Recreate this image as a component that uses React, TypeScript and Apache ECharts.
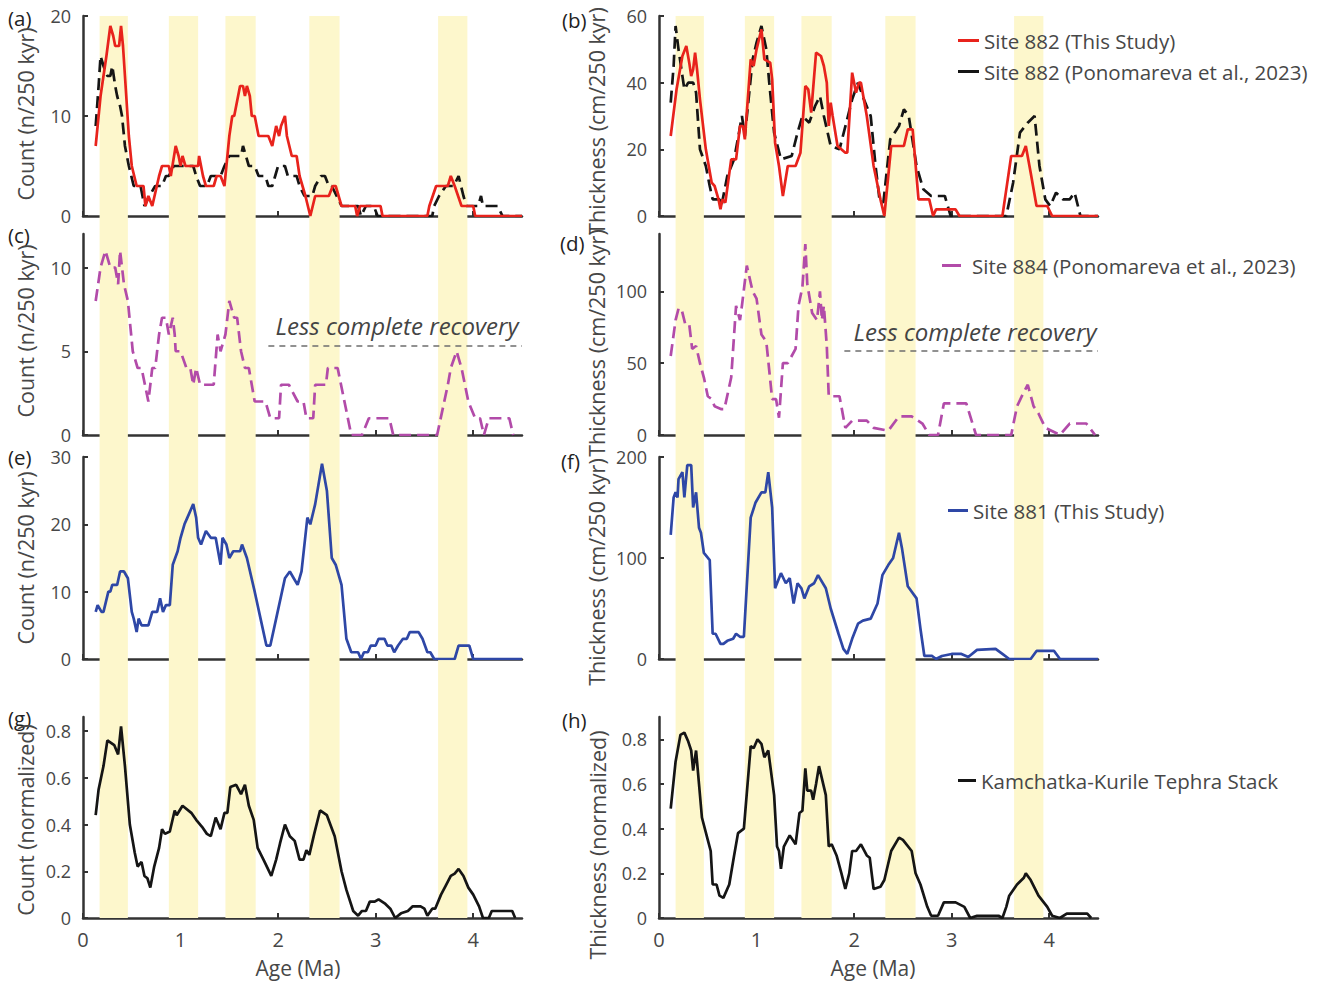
import React, { useEffect, useRef } from "react";
import * as echarts from "echarts";

// Glacial-interval shading (Ma)
const bands: [number, number][] = [
  [0.17, 0.46], [0.88, 1.18], [1.46, 1.77], [2.32, 2.63], [3.64, 3.94],
];

const ageTicks = [0, 1, 2, 3, 4];

// (a) Site 882 tephra count
const countRed882: [number, number][] = [
  [0.13,7],[0.18,12],[0.24,16],[0.28,19],[0.31,18],[0.33,17],[0.37,17],[0.39,19],[0.41,17],[0.43,14],[0.47,8],[0.5,5],[0.55,3],[0.62,3],[0.64,1],[0.67,2],[0.71,1],[0.78,4],[0.81,5],[0.88,5],[0.9,4],[0.95,7],[0.98,6],[1.0,5],[1.02,6],[1.05,5],[1.09,5],[1.18,5],[1.19,6],[1.23,4],[1.26,3],[1.34,3],[1.37,4],[1.41,4],[1.45,3],[1.5,8],[1.53,10],[1.55,10],[1.59,12],[1.61,13],[1.64,13],[1.66,12],[1.68,13],[1.71,12],[1.73,10],[1.76,10],[1.8,8],[1.9,8],[1.94,7],[1.98,9],[2.01,8],[2.03,9],[2.07,10],[2.09,8],[2.14,6],[2.19,6],[2.22,4],[2.28,2],[2.33,0],[2.38,2],[2.52,2],[2.56,3],[2.59,3],[2.65,1],[2.79,1],[2.81,0],[2.84,1],[3.05,1],[3.07,0],[3.53,0],[3.55,1],[3.62,3],[3.74,3],[3.77,4],[3.81,3],[3.88,1],[4.0,1],[4.02,0],[4.5,0],
];
const countBlack882: [number, number][] = [
  [0.13,9],[0.16,13],[0.18,16],[0.21,15],[0.25,14],[0.28,14],[0.3,15],[0.33,13],[0.35,12],[0.38,11],[0.4,10],[0.43,7],[0.45,6],[0.47,5],[0.52,3],[0.59,3],[0.61,2],[0.63,1],[0.68,2],[0.74,3],[0.81,3],[0.85,4],[0.88,4],[0.93,5],[0.98,5],[1.13,5],[1.16,4],[1.2,3],[1.27,3],[1.31,4],[1.41,4],[1.45,5],[1.5,6],[1.62,6],[1.64,7],[1.67,6],[1.7,5],[1.76,5],[1.8,4],[1.87,4],[1.9,3],[1.94,3],[1.97,4],[2.0,5],[2.07,5],[2.1,4],[2.19,4],[2.22,3],[2.27,2],[2.35,2],[2.38,3],[2.44,4],[2.48,4],[2.52,3],[2.55,3],[2.6,2],[2.65,1],[2.82,1],[2.85,0],[2.9,1],[2.98,1],[3.02,0],[3.58,0],[3.6,1],[3.65,2],[3.72,3],[3.8,3],[3.85,4],[3.9,2],[3.93,1],[4.05,1],[4.08,2],[4.1,1],[4.25,1],[4.3,0],[4.5,0],
];

// (b) Site 882 tephra thickness
const thickRed882: [number, number][] = [
  [0.12,24],[0.18,38],[0.24,48],[0.28,51],[0.31,46],[0.33,42],[0.35,44],[0.37,49],[0.39,44],[0.42,35],[0.48,20],[0.54,10],[0.57,9],[0.61,5],[0.63,2],[0.65,5],[0.68,4],[0.74,17],[0.79,17],[0.83,27],[0.86,27],[0.88,23],[0.94,47],[0.97,45],[1.0,50],[1.05,56],[1.08,47],[1.14,46],[1.16,41],[1.19,22],[1.23,15],[1.27,6],[1.32,15],[1.4,15],[1.45,19],[1.5,39],[1.53,38],[1.56,31],[1.61,49],[1.66,48],[1.69,45],[1.72,40],[1.74,27],[1.76,34],[1.78,30],[1.83,21],[1.91,19],[1.93,19],[1.98,43],[2.02,37],[2.05,40],[2.07,40],[2.13,30],[2.2,15],[2.27,5],[2.31,0],[2.38,21],[2.51,21],[2.55,26],[2.6,26],[2.66,5],[2.77,5],[2.81,0],[2.84,2],[3.04,2],[3.08,0],[3.52,0],[3.56,8],[3.61,18],[3.72,18],[3.76,21],[3.81,13],[3.87,3],[3.98,3],[4.03,0],[4.5,0],
];
const thickBlack882: [number, number][] = [
  [0.12,34],[0.15,45],[0.17,57],[0.2,50],[0.23,44],[0.26,38],[0.3,40],[0.35,40],[0.38,37],[0.42,20],[0.48,15],[0.52,9],[0.55,5],[0.62,5],[0.64,3],[0.7,12],[0.77,17],[0.82,25],[0.85,30],[0.88,24],[0.96,47],[1.0,52],[1.05,57],[1.1,50],[1.13,40],[1.18,25],[1.25,17],[1.36,18],[1.42,25],[1.47,30],[1.54,28],[1.6,33],[1.65,36],[1.69,30],[1.76,21],[1.85,20],[1.92,28],[1.98,35],[2.04,40],[2.1,35],[2.17,30],[2.22,15],[2.26,5],[2.3,4],[2.37,23],[2.46,27],[2.51,32],[2.56,30],[2.64,15],[2.71,8],[2.79,6],[2.93,6],[2.99,0],[3.56,0],[3.63,10],[3.7,25],[3.78,28],[3.85,30],[3.9,15],[3.96,5],[4.01,3],[4.07,7],[4.14,5],[4.21,5],[4.26,7],[4.32,0],[4.5,0],
];

// (c) Site 884 count, (d) Site 884 thickness
const count884: [number, number][] = [
  [0.13,8],[0.18,10],[0.23,11],[0.28,10],[0.33,10],[0.36,9],[0.38,11],[0.42,9],[0.46,8],[0.51,5],[0.56,4],[0.6,4],[0.67,2],[0.71,4],[0.74,4],[0.78,6],[0.81,7],[0.85,7],[0.88,6],[0.92,7],[0.94,6],[0.95,5],[1.0,5],[1.06,4],[1.1,4],[1.13,3],[1.16,4],[1.2,3],[1.34,3],[1.38,6],[1.41,5],[1.46,6],[1.5,8],[1.55,7],[1.58,7],[1.62,5],[1.66,4],[1.7,4],[1.73,3],[1.76,2],[1.87,2],[1.92,1],[2.01,1],[2.03,3],[2.11,3],[2.2,2],[2.26,2],[2.29,1],[2.36,1],[2.38,3],[2.49,3],[2.51,4],[2.61,4],[2.68,2],[2.75,0],[2.86,0],[2.93,1],[3.14,1],[3.18,0],[3.63,0],[3.74,3],[3.77,4],[3.83,5],[3.88,4],[3.95,2],[4.02,1],[4.07,1],[4.11,0],[4.16,1],[4.37,1],[4.41,0],
];
const thick884: [number, number][] = [
  [0.12,55],[0.17,80],[0.2,88],[0.23,88],[0.27,77],[0.31,77],[0.34,60],[0.38,62],[0.42,50],[0.46,40],[0.5,27],[0.54,25],[0.57,20],[0.64,18],[0.67,18],[0.74,40],[0.79,90],[0.83,80],[0.85,90],[0.9,118],[0.96,100],[1.0,95],[1.05,70],[1.1,65],[1.16,25],[1.2,25],[1.23,12],[1.27,50],[1.32,50],[1.4,60],[1.43,90],[1.47,103],[1.5,133],[1.52,105],[1.57,85],[1.62,80],[1.65,100],[1.67,80],[1.69,90],[1.72,62],[1.74,27],[1.85,27],[1.91,5],[1.98,10],[2.13,10],[2.2,5],[2.35,3],[2.46,13],[2.59,13],[2.7,8],[2.77,0],[2.86,0],[2.92,22],[3.15,22],[3.25,0],[3.61,0],[3.67,20],[3.74,30],[3.78,35],[3.84,20],[3.89,15],[3.96,5],[4.11,0],[4.21,8],[4.38,8],[4.47,0],
];
// "Less complete recovery" threshold lines
const recovery884Count: [number, number][] = [[1.9, 5.3], [4.5, 5.3]];
const recovery884Thick: [number, number][] = [[1.9, 59], [4.5, 59]];

// (e) Site 881 count, (f) Site 881 thickness
const count881: [number, number][] = [
  [0.13,7],[0.15,8],[0.19,7],[0.21,7],[0.26,10],[0.28,10],[0.3,11],[0.35,11],[0.38,13],[0.42,13],[0.46,12],[0.5,7],[0.52,6],[0.55,4],[0.57,6],[0.6,5],[0.67,5],[0.71,7],[0.76,7],[0.79,9],[0.82,7],[0.85,8],[0.89,8],[0.92,14],[0.97,16],[1.0,18],[1.04,20],[1.07,21],[1.13,23],[1.16,21],[1.18,18],[1.21,17],[1.26,19],[1.31,18],[1.36,18],[1.41,14],[1.43,18],[1.47,17],[1.5,15],[1.54,16],[1.61,16],[1.63,17],[1.68,15],[1.76,10],[1.82,6],[1.88,2],[1.92,2],[1.98,6],[2.07,12],[2.12,13],[2.16,12],[2.2,11],[2.24,13],[2.3,21],[2.33,20],[2.38,23],[2.45,29],[2.5,25],[2.55,15],[2.59,14],[2.65,11],[2.7,3],[2.75,1],[2.82,1],[2.85,0],[2.88,1],[2.92,1],[2.95,2],[3.0,2],[3.03,3],[3.09,3],[3.12,2],[3.16,2],[3.19,1],[3.23,2],[3.28,3],[3.32,3],[3.35,4],[3.44,4],[3.48,3],[3.53,1],[3.56,1],[3.6,0],[3.81,0],[3.85,2],[3.96,2],[4.0,0],[4.5,0],
];
const thick881: [number, number][] = [
  [0.12,123],[0.15,160],[0.17,165],[0.19,160],[0.2,178],[0.24,185],[0.26,160],[0.29,192],[0.33,192],[0.35,150],[0.38,165],[0.41,130],[0.43,125],[0.46,105],[0.52,98],[0.55,25],[0.58,25],[0.63,15],[0.66,15],[0.7,18],[0.76,20],[0.79,25],[0.83,22],[0.87,22],[0.94,140],[0.99,155],[1.05,165],[1.09,165],[1.12,185],[1.16,150],[1.19,70],[1.25,85],[1.3,75],[1.34,80],[1.38,55],[1.42,75],[1.46,70],[1.49,60],[1.54,72],[1.59,75],[1.63,83],[1.71,70],[1.76,50],[1.84,25],[1.89,10],[1.93,5],[1.98,20],[2.04,35],[2.09,38],[2.17,40],[2.24,55],[2.29,83],[2.35,93],[2.4,100],[2.46,125],[2.49,110],[2.55,72],[2.64,60],[2.68,30],[2.72,3],[2.8,3],[2.84,0],[2.9,3],[3.0,5],[3.1,5],[3.17,2],[3.26,9],[3.45,10],[3.52,5],[3.59,0],[3.81,0],[3.87,8],[4.05,8],[4.11,0],[4.5,0],
];

// (g) stacked count, (h) stacked thickness (normalized)
const stackCount: [number, number][] = [
  [0.13,0.44],[0.16,0.55],[0.21,0.65],[0.25,0.76],[0.32,0.74],[0.36,0.7],[0.39,0.82],[0.43,0.65],[0.48,0.4],[0.53,0.28],[0.56,0.22],[0.6,0.24],[0.63,0.18],[0.66,0.17],[0.69,0.13],[0.73,0.22],[0.78,0.3],[0.81,0.38],[0.84,0.36],[0.89,0.37],[0.94,0.46],[0.96,0.44],[1.02,0.48],[1.11,0.45],[1.16,0.42],[1.22,0.39],[1.27,0.36],[1.31,0.35],[1.36,0.43],[1.41,0.38],[1.45,0.45],[1.48,0.45],[1.51,0.56],[1.57,0.57],[1.62,0.53],[1.66,0.57],[1.7,0.48],[1.75,0.42],[1.79,0.3],[1.85,0.25],[1.93,0.18],[1.98,0.25],[2.02,0.32],[2.07,0.4],[2.12,0.35],[2.17,0.33],[2.22,0.25],[2.26,0.25],[2.29,0.29],[2.32,0.27],[2.37,0.36],[2.43,0.46],[2.5,0.44],[2.58,0.35],[2.65,0.2],[2.7,0.12],[2.77,0.03],[2.82,0.01],[2.86,0.03],[2.9,0.03],[2.94,0.07],[2.99,0.07],[3.03,0.08],[3.1,0.06],[3.15,0.04],[3.2,0.0],[3.26,0.02],[3.33,0.03],[3.38,0.05],[3.46,0.05],[3.5,0.04],[3.53,0.01],[3.58,0.04],[3.61,0.04],[3.67,0.1],[3.72,0.14],[3.77,0.18],[3.81,0.19],[3.85,0.21],[3.9,0.18],[3.95,0.13],[4.0,0.1],[4.06,0.05],[4.1,0.0],[4.16,0.0],[4.19,0.03],[4.4,0.03],[4.43,0.0],
];
const stackThick: [number, number][] = [
  [0.12,0.49],[0.17,0.7],[0.22,0.82],[0.26,0.83],[0.3,0.79],[0.33,0.75],[0.35,0.66],[0.38,0.75],[0.41,0.6],[0.44,0.45],[0.5,0.35],[0.53,0.3],[0.55,0.15],[0.59,0.15],[0.62,0.1],[0.66,0.09],[0.72,0.15],[0.77,0.28],[0.81,0.38],[0.87,0.4],[0.94,0.77],[0.97,0.76],[1.01,0.8],[1.05,0.78],[1.08,0.72],[1.12,0.75],[1.18,0.55],[1.21,0.32],[1.23,0.3],[1.25,0.22],[1.28,0.32],[1.34,0.37],[1.4,0.33],[1.44,0.47],[1.47,0.48],[1.5,0.67],[1.52,0.57],[1.56,0.57],[1.58,0.53],[1.61,0.6],[1.64,0.68],[1.71,0.55],[1.74,0.32],[1.77,0.33],[1.82,0.28],[1.87,0.2],[1.91,0.13],[1.95,0.2],[1.98,0.3],[2.02,0.3],[2.07,0.33],[2.13,0.28],[2.16,0.27],[2.2,0.13],[2.27,0.14],[2.31,0.17],[2.38,0.3],[2.46,0.36],[2.5,0.35],[2.59,0.3],[2.63,0.2],[2.68,0.15],[2.75,0.05],[2.79,0.01],[2.86,0.01],[2.92,0.07],[3.04,0.07],[3.13,0.05],[3.19,0.0],[3.26,0.01],[3.48,0.01],[3.52,0.0],[3.56,0.05],[3.59,0.1],[3.67,0.15],[3.74,0.18],[3.76,0.2],[3.81,0.17],[3.89,0.1],[3.98,0.05],[4.03,0.01],[4.11,0.0],[4.18,0.02],[4.39,0.02],[4.43,0.0],
];

const FONT = "'Open Sans', 'Noto Sans', sans-serif";
const TEXT = "#474747";
const AXIS = "#333333";
const RED = "#E8231C";
const MAGENTA = "#B24BA9";
const BLUE = "#2E47A6";
const BLACK = "#151515";
const BAND = "#FDF7CC";

const NAME_RED = "Site 882 (This Study)";
const NAME_BLACK = "Site 882 (Ponomareva et al., 2023)";
const NAME_884 = "Site 884 (Ponomareva et al., 2023)";
const NAME_881 = "Site 881 (This Study)";
const NAME_STACK = "Kamchatka-Kurile Tephra Stack";

// panel layout
const colL = { left: 83, width: 439 };
const colR = { left: 659, width: 439 };
const rows = [
  { top: 16, height: 200 },
  { top: 234, height: 201 },
  { top: 457, height: 202 },
  { top: 717, height: 201 },
];

// y-axis settings per panel a..h
const yMax = [20, 60, 12, 140, 30, 200, 0.86, 0.9];
const yTicks = [
  [0, 10, 20], [0, 20, 40, 60], [0, 5, 10], [0, 50, 100],
  [0, 10, 20, 30], [0, 100, 200], [0, 0.2, 0.4, 0.6, 0.8], [0, 0.2, 0.4, 0.6, 0.8],
];

export default function App() {
  const ref = useRef<HTMLDivElement>(null);

  useEffect(() => {
    if (!ref.current) return;
    const chart = echarts.init(ref.current, null, { renderer: "svg" });

    const grids: any[] = [];
    const xAxes: any[] = [];
    const yAxes: any[] = [];
    for (let i = 0; i < 8; i++) {
      const col = i % 2 === 0 ? colL : colR;
      const row = rows[Math.floor(i / 2)];
      grids.push({ left: col.left, width: col.width, top: row.top, height: row.height });
      const bottomRow = i >= 6;
      xAxes.push({
        type: "value", gridIndex: i, min: 0, max: 4.5, interval: 1,
        axisLine: { show: true, onZero: false, lineStyle: { color: AXIS, width: 2.5 } },
        axisTick: { show: true, inside: true, length: 5, customValues: ageTicks, lineStyle: { color: AXIS, width: 2 } },
        axisLabel: {
          show: bottomRow, customValues: ageTicks, margin: 11,
          fontSize: 20, fontFamily: FONT, color: TEXT,
        },
        splitLine: { show: false },
      });
      yAxes.push({
        type: "value", gridIndex: i, min: 0, max: yMax[i],
        axisLine: { show: true, lineStyle: { color: AXIS, width: 2.5 } },
        axisTick: { show: true, inside: true, length: 5, customValues: yTicks[i], lineStyle: { color: AXIS, width: 2 } },
        axisLabel: {
          customValues: yTicks[i], margin: 12, fontSize: 18, fontFamily: FONT, color: TEXT,
        },
        splitLine: { show: false },
      });
    }
    // shading grids spanning each column
    [colL, colR].forEach((col, k) => {
      grids.push({ left: col.left, width: col.width, top: rows[0].top, height: rows[3].top + rows[3].height - rows[0].top });
      xAxes.push({ type: "value", gridIndex: 8 + k, min: 0, max: 4.5, show: false });
      yAxes.push({ type: "value", gridIndex: 8 + k, min: 0, max: 1, show: false });
    });

    const line = (idx: number, name: string, data: [number, number][], color: string, dashed: boolean, z = 3, extra: any = {}) => ({
      type: "line", name, xAxisIndex: idx, yAxisIndex: idx, data,
      showSymbol: false, symbol: "none", z,
      lineStyle: { color, width: 2.7, type: dashed ? [12, 6] : "solid" },
      itemStyle: { color },
      ...extra,
    });

    const recoveryLine = (pts: [number, number][]) => ({
      markLine: {
        silent: true, symbol: "none", label: { show: false },
        lineStyle: { color: "#6e6e6e", width: 1.5, type: [6, 5] },
        data: [[{ coord: pts[0] }, { coord: pts[1] }]],
      },
    });

    const series: any[] = [
      ...[8, 9].map((g) => ({
        type: "line", xAxisIndex: g, yAxisIndex: g, data: [], z: -1, silent: true,
        markArea: {
          silent: true, itemStyle: { color: BAND },
          data: bands.map(([a, b]) => [{ xAxis: a }, { xAxis: b }]),
        },
      })),
      line(0, NAME_BLACK, countBlack882, BLACK, true, 3),
      line(0, NAME_RED, countRed882, RED, false, 4),
      line(1, NAME_BLACK, thickBlack882, BLACK, true, 3),
      line(1, NAME_RED, thickRed882, RED, false, 4),
      line(2, NAME_884, count884, MAGENTA, true, 3, recoveryLine(recovery884Count)),
      line(3, NAME_884, thick884, MAGENTA, true, 3, recoveryLine(recovery884Thick)),
      line(4, NAME_881, count881, BLUE, false),
      line(5, NAME_881, thick881, BLUE, false),
      line(6, NAME_STACK, stackCount, BLACK, false),
      line(7, NAME_STACK, stackThick, BLACK, false),
    ];

    const legendText = { fontSize: 20.5, fontFamily: FONT, color: TEXT };
    const legendBase = {
      orient: "vertical", icon: "rect", itemWidth: 21, itemHeight: 3, itemGap: 10,
      selectedMode: false,
    };
    const legends = [
      { ...legendBase, left: 953, top: 25, data: [NAME_RED, NAME_BLACK], textStyle: { ...legendText, padding: [0, 0, 0, 0] } },
      { ...legendBase, left: 937, top: 250, itemWidth: 19, data: [NAME_884], textStyle: { ...legendText, padding: [0, 0, 0, 6] } },
      { ...legendBase, left: 943, top: 495, itemWidth: 20, data: [NAME_881], textStyle: { ...legendText, padding: [0, 0, 0, 0] } },
      { ...legendBase, left: 953, top: 765, itemWidth: 18, data: [NAME_STACK], textStyle: { ...legendText, padding: [0, 0, 0, 0] } },
    ];

    const txt = (text: string, x: number, y: number, opts: any = {}) => ({
      type: "text", x, y, rotation: opts.rotation ?? 0, z: 10,
      style: {
        text, fill: opts.fill ?? TEXT, fontSize: opts.fontSize ?? 21, fontFamily: FONT,
        fontStyle: opts.fontStyle ?? "normal",
        align: opts.align ?? "left", verticalAlign: opts.verticalAlign ?? "middle",
      },
    });
    const vert = { rotation: Math.PI / 2, align: "center", fontSize: 21.5 };
    const letter = { fill: "#222", fontSize: 20.5 };

    const graphic = [
      // panel letters
      txt("(a)", 8, 18, letter),
      txt("(b)", 562, 20, letter),
      txt("(c)", 8, 235, letter),
      txt("(d)", 560, 243, letter),
      txt("(e)", 8, 457, letter),
      txt("(f)", 561, 461, letter),
      txt("(g)", 8, 718, letter),
      txt("(h)", 562, 720, letter),
      // y-axis titles
      txt("Count (n/250 kyr)", 25, 114, vert),
      txt("Count (n/250 kyr)", 25, 331, vert),
      txt("Count (n/250 kyr)", 25, 558, vert),
      txt("Count (normalized)", 25, 820, vert),
      txt("Thickness (cm/250 kyr)", 596, 121, vert),
      txt("Thickness (cm/250 kyr)", 596, 343, vert),
      txt("Thickness (cm/250 kyr)", 596, 572, vert),
      txt("Thickness (normalized)", 597, 845, vert),
      // x-axis titles
      txt("Age (Ma)", 298, 968, { align: "center" }),
      txt("Age (Ma)", 873, 968, { align: "center" }),
      // recovery notes
      txt("Less complete recovery", 397, 325, { align: "center", fontStyle: "italic", fontSize: 24, fill: "#444" }),
      txt("Less complete recovery", 975, 331, { align: "center", fontStyle: "italic", fontSize: 24, fill: "#444" }),
    ];

    chart.setOption({
      animation: false,
      backgroundColor: "#ffffff",
      grid: grids,
      xAxis: xAxes,
      yAxis: yAxes,
      legend: legends,
      series,
      graphic,
    });

    return () => chart.dispose();
  }, []);

  return (
    <div
      ref={ref}
      style={{ position: "absolute", left: 0, top: 0, width: 1325, height: 982 }}
    />
  );
}
